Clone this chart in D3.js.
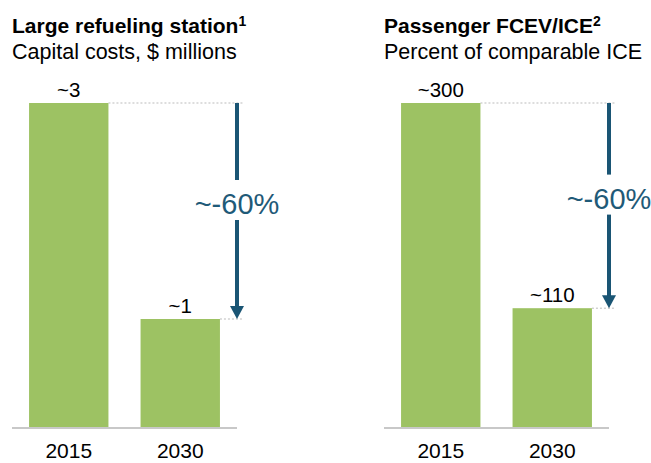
<html>
<head>
<script src="https://d3js.org/d3.v7.min.js"></script>
<style>
body { margin:0; background:#fff; }
text { font-family: "Liberation Sans", Arial, sans-serif; }
</style>
</head>
<body>
<div id="chart"></div>
<script>
	// values
	var years = ["2015", "2030"];
	var station_values = [3, 1];
	var station_labels = ["~3", "~1"];
	var fcev_values = [300, 110];
	var fcev_labels = ["~300", "~110"];
	var change_labels = ["~-60%", "~-60%"];

	var width = 651;
	var height = 463;
	var barColor = "#9dc263";
	var arrowColor = "#1a5574";
	var baseY = 427;
	var topY = 103;
	var axisW = 225;

	var svg = d3.select("#chart").append("svg")
		.attr("width", width)
		.attr("height", height);

	var panels = [
		{x0:12, title:"Large refueling station", sup:"1", sub:"Capital costs, $ millions",
		 values:station_values, labels:station_labels, max:3, change:change_labels[0]},
		{x0:384, title:"Passenger FCEV/ICE", sup:"2", sub:"Percent of comparable ICE",
		 values:fcev_values, labels:fcev_labels, max:300, change:change_labels[1]}
	];

	panels.forEach(function(p){
		var g = svg.append("g").attr("transform", "translate(" + p.x0 + ",0)");

		var x = d3.scaleBand().domain(years).range([0, axisW])
			.paddingInner(0.288).paddingOuter(0.153);
		var y = d3.scaleLinear().domain([0, p.max]).range([baseY, topY]);

		// titles
		var t = g.append("text").attr("x", 0).attr("y", 33)
			.style("font-size", "21px").style("font-weight", "bold").style("fill", "#000");
		t.append("tspan").text(p.title);
		t.append("tspan").text(p.sup).attr("dy", -7).style("font-size", "14px");
		g.append("text").attr("x", 0).attr("y", 59)
			.style("font-size", "21.5px").style("fill", "#000").text(p.sub);

		var data = years.map(function(d, i){ return {year:d, value:p.values[i], label:p.labels[i]}; });

		// dashed guides from bar tops to arrow
		g.selectAll(".guide").data(data).enter().append("line")
			.attr("x1", function(d){ return x(d.year) + x.bandwidth(); })
			.attr("x2", axisW + 6)
			.attr("y1", function(d){ return y(d.value); })
			.attr("y2", function(d){ return y(d.value); })
			.attr("stroke", "#bbb").attr("stroke-width", 1)
			.attr("stroke-dasharray", "2,2");

		g.selectAll(".bar").data(data).enter().append("rect")
			.attr("x", function(d){ return x(d.year); })
			.attr("y", function(d){ return y(d.value); })
			.attr("width", x.bandwidth())
			.attr("height", function(d){ return baseY - y(d.value); })
			.attr("fill", barColor);

		g.selectAll(".val").data(data).enter().append("text")
			.attr("x", function(d){ return x(d.year) + x.bandwidth()/2; })
			.attr("y", function(d){ return y(d.value) - 6; })
			.attr("text-anchor", "middle")
			.style("font-size", "20.5px").style("fill", "#000")
			.text(function(d){ return d.label; });

		// baseline
		g.append("line").attr("x1", 0).attr("x2", axisW)
			.attr("y1", baseY + 1).attr("y2", baseY + 1)
			.attr("stroke", "#c8c8c8").attr("stroke-width", 2);

		g.selectAll(".year").data(data).enter().append("text")
			.attr("x", function(d){ return x(d.year) + x.bandwidth()/2; })
			.attr("y", 458)
			.attr("text-anchor", "middle")
			.style("font-size", "21px").style("fill", "#000")
			.text(function(d){ return d.year; });

		// arrow with label
		var y1 = y(p.values[0]), y2 = y(p.values[1]);
		var mid = (y1 + y2)/2 - 6;
		var ax = axisW;
		g.append("line").attr("x1", ax).attr("x2", ax)
			.attr("y1", y1).attr("y2", mid - 25)
			.attr("stroke", arrowColor).attr("stroke-width", 4);
		g.append("line").attr("x1", ax).attr("x2", ax)
			.attr("y1", mid + 15).attr("y2", y2 - 10)
			.attr("stroke", arrowColor).attr("stroke-width", 4);
		g.append("path")
			.attr("d", "M" + (ax-7) + "," + (y2-13) + "L" + (ax+7) + "," + (y2-13) + "L" + ax + "," + y2 + "Z")
			.attr("fill", arrowColor);
		g.append("text").attr("x", ax).attr("y", mid + 9)
			.attr("text-anchor", "middle")
			.style("font-size", "29px").style("fill", "#1f5a78")
			.text(p.change);
	});
</script>
</body>
</html>
